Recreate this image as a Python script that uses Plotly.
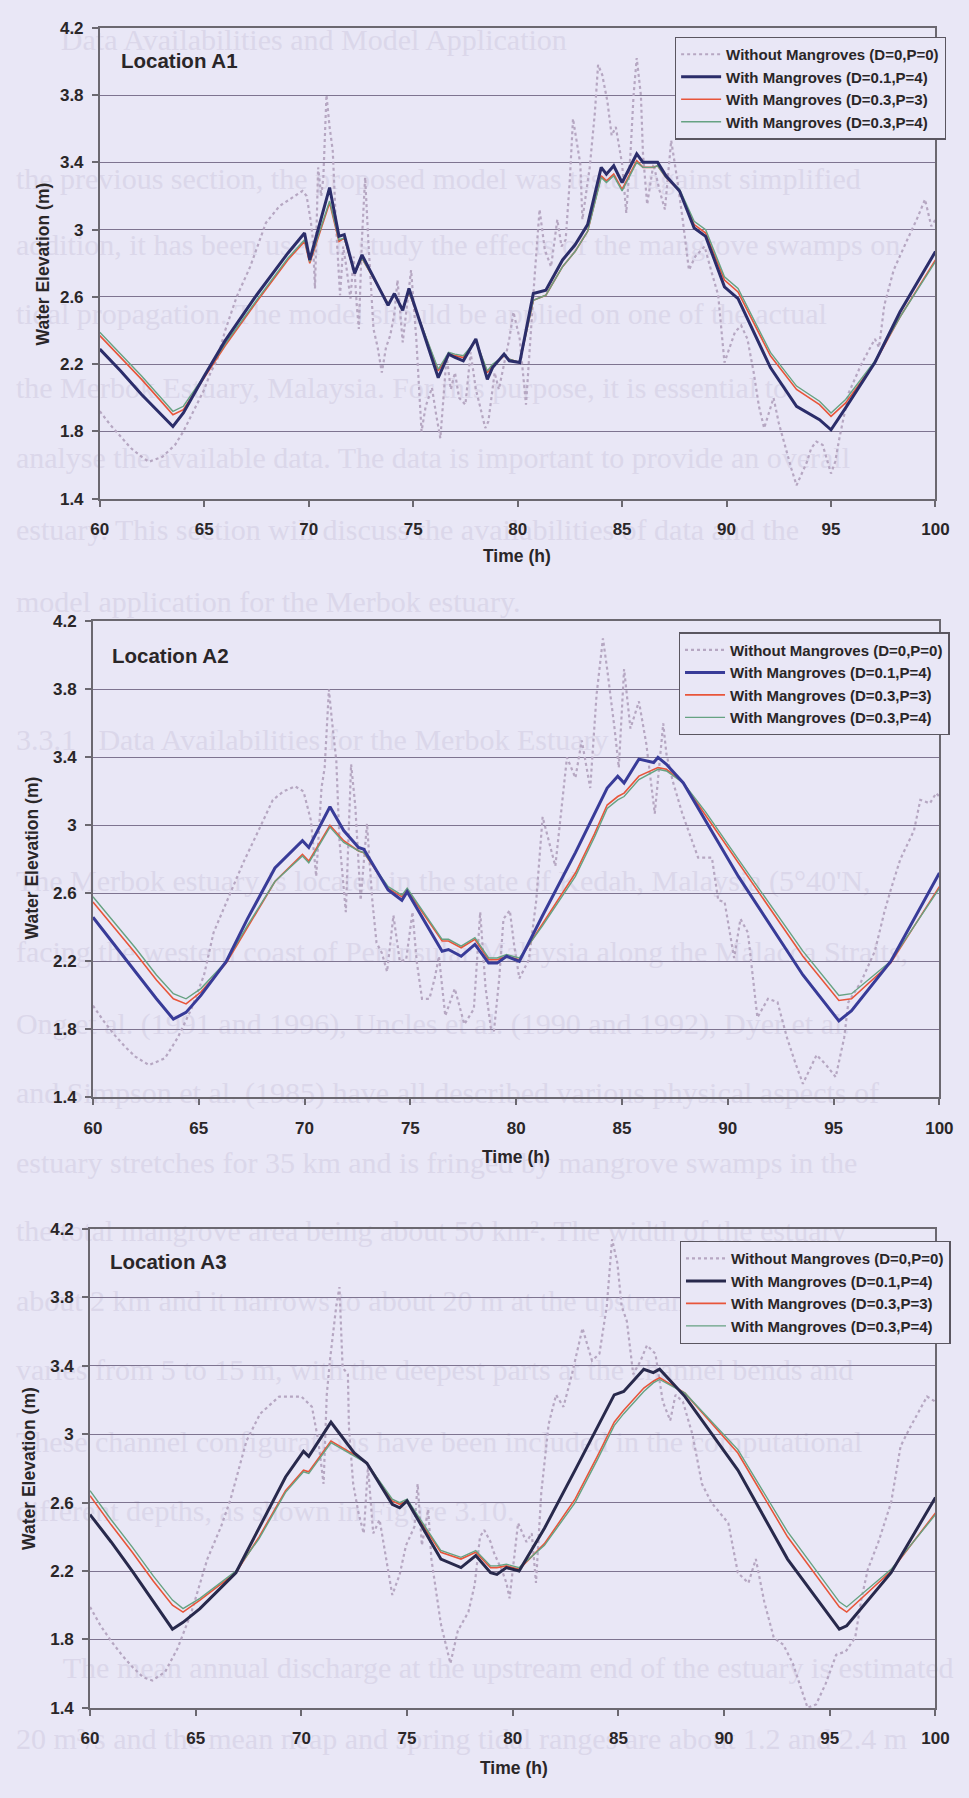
import plotly.graph_objects as go

W, H = 969, 1798
BG = "#E9E7F6"

series_names = ["Without Mangroves (D=0,P=0)", "With Mangroves (D=0.1,P=4)",
                "With Mangroves (D=0.3,P=3)", "With Mangroves (D=0.3,P=4)"]
location_labels = ["Location A1", "Location A2", "Location A3"]
y_ticks = [1.4, 1.8, 2.2, 2.6, 3.0, 3.4, 3.8, 4.2]
y_tick_labels = ["1.4", "1.8", "2.2", "2.6", "3", "3.4", "3.8", "4.2"]
x_ticks = [60, 65, 70, 75, 80, 85, 90, 95, 100]
x_tick_labels = ["60", "65", "70", "75", "80", "85", "90", "95", "100"]

# faint show-through text of the scanned page behind the charts
page_text_rows = [
    "Data Availabilities and Model Application",
    "the previous section, the proposed model was tested against simplified",
    "addition, it has been used to study the effects of the mangrove swamps on",
    "tidal propagation. The model should be applied on one of the actual",
    "the Merbok Estuary, Malaysia. For this purpose, it is essential to",
    "analyse the available data. The data is important to provide an overall",
    "estuary. This section will discuss the availabilities of data and the",
    "model application for the Merbok estuary.",
    "3.3.1   Data Availabilities for the Merbok Estuary",
    "The Merbok estuary is located in the state of Kedah, Malaysia (5°40'N,",
    "facing the western coast of Peninsular Malaysia along the Malacca Straits,",
    "Ong et al. (1991 and 1996), Uncles et al. (1990 and 1992), Dyer et al.",
    "and Simpson et al. (1985) have all described various physical aspects of",
    "estuary stretches for 35 km and is fringed by mangrove swamps in the",
    "the total mangrove area being about 50 km². The width of the estuary",
    "about 2 km and it narrows to about 20 m at the upstream end. The depth",
    "varies from 5 to 15 m, with the deepest parts at the channel bends and",
    "These channel configurations have been included in the computational",
    "different depths, as shown in Figure 3.10.",
    "The mean annual discharge at the upstream end of the estuary is estimated",
    "20 m³/s and the mean neap and spring tidal ranges are about 1.2 and 2.4 m",
]
page_text_pos = [(50, 28), (4, 168), (4, 235), (4, 305), (4, 380), (4, 450), (4, 523), (4, 596),
                 (4, 735), (4, 878), (4, 950), (4, 1023), (4, 1093), (4, 1163), (4, 1232),
                 (4, 1302), (4, 1372), (4, 1445), (4, 1515), (52, 1673), (4, 1745)]

# ---------------- Location A1 ----------------
a1_nm_t = [60, 60.5, 61, 61.5, 62, 62.35, 63, 63.6, 64, 64.4, 65, 65.3, 65.6, 66, 66.55, 67.2, 67.95, 68.6, 69.2, 69.7,
           69.9, 70.1, 70.2, 70.3, 70.45, 70.6, 70.7, 70.85, 71.0, 71.15, 71.3, 71.5, 71.65, 71.8, 72.0, 72.15, 72.3, 72.4,
           72.55, 72.7, 72.85, 73.1, 73.3, 73.5, 73.7, 73.9, 74.1, 74.25, 74.5, 74.7, 74.9, 75.15, 75.25, 75.4, 75.6, 75.9,
           76.1, 76.3, 76.45, 76.6, 76.8, 77.0, 77.2, 77.5, 77.75, 78.0, 78.2, 78.45, 78.6, 78.9, 79.1, 79.35, 79.6, 79.8,
           80.1, 80.4, 80.55, 80.8, 81.05, 81.3, 81.6, 81.9, 82.1, 82.3, 82.5, 82.65, 83.0, 83.1, 83.45, 83.7, 83.85, 84.05,
           84.3, 84.5, 84.7, 85.0, 85.2, 85.4, 85.55, 85.7, 85.9, 86.0, 86.2, 86.5, 86.8, 87.05, 87.35, 87.65, 87.9, 88.2,
           88.5, 88.95, 89.3, 89.6, 89.9, 90.15, 90.4, 90.7, 91.0, 91.3, 91.55, 91.8, 92.0, 92.25, 92.5, 92.8, 93.1, 93.35,
           93.6, 93.85, 94.05, 94.3, 94.6, 94.85, 95.0, 95.2, 95.4, 95.85, 96.45, 97.1, 97.3, 97.55, 98.0, 98.65, 99.1,
           99.5, 99.8, 100]
a1_nm_v = [1.92, 1.84, 1.77, 1.70, 1.65, 1.62, 1.65, 1.72, 1.80, 1.90, 2.05, 2.15, 2.22, 2.40, 2.60, 2.78, 3.04, 3.14, 3.19, 3.23,
           3.20, 3.05, 2.94, 2.65, 3.37, 3.20, 3.31, 3.80, 3.61, 3.47, 3.04, 2.61, 2.90, 2.78, 2.59, 2.84, 2.55, 2.41,
           2.95, 3.31, 2.94, 2.41, 2.30, 2.15, 2.30, 2.37, 2.50, 2.70, 2.33, 2.55, 2.76, 2.35, 2.10, 1.80, 1.95, 2.06,
           1.90, 1.76, 2.00, 2.25, 2.05, 2.15, 2.00, 1.96, 2.27, 2.05, 1.95, 1.82, 1.86, 2.15, 2.05, 2.19, 2.35, 2.51,
           2.35, 1.96, 2.25, 2.70, 3.12, 2.88, 2.78, 3.06, 2.90, 2.94, 3.30, 3.66, 3.39, 3.06, 3.37, 3.70, 3.98, 3.92,
           3.76, 3.56, 3.61, 3.39, 3.10, 3.45, 3.80, 4.02, 3.80, 3.45, 3.15, 3.39, 3.23, 3.12, 3.53, 3.29, 3.06, 2.76,
           2.84, 2.90, 2.74, 2.61, 2.21, 2.30, 2.39, 2.43, 2.35, 2.15, 1.95, 1.82, 1.90, 2.00, 1.85, 1.71, 1.58, 1.48,
           1.55, 1.62, 1.70, 1.74, 1.72, 1.62, 1.55, 1.62, 1.76, 2.03, 2.20, 2.35, 2.30, 2.55, 2.76, 2.94, 3.06,
           3.18, 3.02, 3.06]
a1_m_t = [60, 61, 62, 63, 63.5, 64, 65, 66, 67.5, 69, 69.8, 70.05, 71.0, 71.45, 71.7, 72.2, 72.55, 73.8, 74.1, 74.5, 74.8,
          76.2, 76.7, 77.0, 77.4, 78.0, 78.55, 78.8, 79.35, 79.6, 80.1, 80.75, 81.35, 82.15, 82.75, 83.35, 84.0, 84.25,
          84.6, 85.0, 85.7, 86.0, 86.5, 86.7, 87.1, 87.75, 88.45, 89.0, 89.9, 90.55, 92.1, 93.35, 94.45, 95.0, 95.7,
          97.1, 98.3, 100]
a1_d01p4 = [2.29, 2.16, 2.02, 1.89, 1.83, 1.91, 2.13, 2.34, 2.61, 2.86, 2.98, 2.82, 3.25, 2.96, 2.97, 2.74, 2.85, 2.55, 2.62, 2.52, 2.65,
            2.12, 2.26, 2.24, 2.22, 2.35, 2.11, 2.18, 2.26, 2.22, 2.21, 2.62, 2.64, 2.82, 2.91, 3.03, 3.37, 3.33,
            3.38, 3.28, 3.45, 3.40, 3.40, 3.40, 3.32, 3.23, 3.01, 2.96, 2.66, 2.59, 2.18, 1.95, 1.87, 1.81, 1.94,
            2.21, 2.51, 2.87]
a1_d03p3 = [2.37, 2.24, 2.11, 1.97, 1.90, 1.93, 2.12, 2.31, 2.57, 2.82, 2.93, 2.80, 3.16, 2.93, 2.95, 2.74, 2.83, 2.56, 2.61, 2.53, 2.63,
            2.16, 2.26, 2.25, 2.24, 2.34, 2.15, 2.19, 2.25, 2.23, 2.21, 2.58, 2.61, 2.78, 2.87, 2.99, 3.32, 3.29,
            3.33, 3.24, 3.41, 3.37, 3.37, 3.38, 3.31, 3.23, 3.03, 2.98, 2.70, 2.63, 2.25, 2.05, 1.96, 1.89, 1.97,
            2.21, 2.48, 2.82]
a1_d03p4 = [2.39, 2.26, 2.13, 1.99, 1.92, 1.95, 2.13, 2.32, 2.58, 2.83, 2.94, 2.81, 3.17, 2.94, 2.95, 2.74, 2.83, 2.56, 2.61, 2.53, 2.63,
            2.17, 2.27, 2.26, 2.25, 2.34, 2.16, 2.20, 2.25, 2.23, 2.21, 2.58, 2.61, 2.78, 2.87, 2.99, 3.31, 3.28,
            3.32, 3.23, 3.40, 3.37, 3.37, 3.38, 3.31, 3.24, 3.05, 3.00, 2.72, 2.65, 2.27, 2.07, 1.98, 1.91, 1.99,
            2.22, 2.48, 2.81]

# ---------------- Location A2 ----------------
a2_nm_t = [60, 60.5, 61, 61.5, 62, 62.65, 63.4, 64.0, 64.65, 65.25, 65.7, 66.5, 67.1, 67.9, 68.5, 69.0, 69.55, 69.95, 70.3,
           70.55, 70.8, 70.95, 71.15, 71.3, 71.5, 71.65, 71.95, 72.2, 72.4, 72.65, 72.95, 73.2, 73.4, 73.65, 73.9, 74.2,
           74.5, 74.8, 75.1, 75.3, 75.55, 75.9, 76.15, 76.35, 76.65, 77.1, 77.55, 78.0, 78.15, 78.3, 78.55, 78.8, 78.95,
           79.2, 79.4, 79.7, 79.9, 80.15, 80.6, 80.95, 81.25, 81.55, 81.85, 82.1, 82.4, 82.8, 83.1, 83.5, 83.8, 84.1,
           84.3, 84.65, 84.85, 85.1, 85.4, 85.8, 86.15, 86.55, 86.95, 87.1, 87.4, 87.85, 88.3, 88.6, 89.25, 89.55, 89.85,
           90.3, 90.6, 90.95, 91.4, 91.9, 92.35, 92.8, 93.2, 93.55, 94.2, 94.65, 95.1, 95.5, 95.7, 96.3, 96.95, 97.4,
           97.7, 98.15, 98.8, 99.1, 99.55, 99.85, 100]
a2_nm_v = [1.94, 1.85, 1.77, 1.70, 1.64, 1.59, 1.63, 1.75, 1.92, 2.12, 2.37, 2.60, 2.78, 2.99, 3.15, 3.20, 3.23, 3.20, 3.03,
           2.70, 3.22, 3.34, 3.80, 3.61, 3.38, 2.91, 2.49, 3.36, 3.11, 2.56, 3.01, 2.56, 2.31, 2.25, 2.14, 2.47,
           2.20, 2.21, 2.49, 2.20, 1.98, 1.98, 2.10, 2.23, 1.88, 2.04, 1.83, 1.92, 2.20, 2.49, 2.05, 1.81, 1.79,
           2.10, 2.45, 2.50, 2.30, 2.10, 2.21, 2.56, 3.05, 2.91, 2.76, 3.05, 3.40, 3.28, 3.50, 3.22, 3.77, 4.10,
           3.92, 3.57, 3.34, 3.92, 3.57, 3.73, 3.48, 3.07, 3.60, 3.42, 3.26, 3.07, 2.91, 2.81, 2.81, 2.56, 2.55,
           2.22, 2.45, 2.37, 1.87, 1.98, 1.96, 1.75, 1.60, 1.48, 1.65, 1.59, 1.52, 1.75, 1.96, 2.08, 2.26, 2.49,
           2.62, 2.80, 2.97, 3.15, 3.13, 3.19, 3.17]
a2_m_t = [60, 61, 62, 63, 63.8, 64.4, 65.1, 66.3, 67.3, 68.6, 69.9, 70.2, 71.2, 71.85, 72.55, 72.8, 73.95, 74.6, 74.85,
          76.5, 76.8, 77.4, 78.05, 78.7, 79.1, 79.55, 80.15, 81.25, 82.8, 83.7, 84.3, 84.8, 85.1, 85.8, 86.5, 86.7,
          87.1, 87.9, 88.95, 90.5, 93.55, 95.25, 95.85, 97.7, 100]
a2_d01p4 = [2.46, 2.30, 2.14, 1.98, 1.86, 1.90, 2.00, 2.20, 2.45, 2.75, 2.91, 2.87, 3.11, 2.97, 2.87, 2.86, 2.62, 2.56, 2.61,
            2.26, 2.27, 2.23, 2.30, 2.19, 2.19, 2.23, 2.20, 2.47, 2.84, 3.07, 3.22, 3.29, 3.25, 3.39, 3.37, 3.40,
            3.36, 3.25, 3.03, 2.70, 2.12, 1.85, 1.91, 2.20, 2.72]
a2_d03p3 = [2.55, 2.40, 2.25, 2.09, 1.98, 1.95, 2.02, 2.19, 2.40, 2.67, 2.83, 2.79, 3.00, 2.91, 2.85, 2.84, 2.63, 2.58, 2.62,
            2.32, 2.32, 2.28, 2.33, 2.21, 2.21, 2.23, 2.21, 2.42, 2.72, 2.95, 3.12, 3.17, 3.19, 3.29, 3.33, 3.34,
            3.33, 3.25, 3.06, 2.78, 2.23, 1.97, 1.98, 2.19, 2.64]
a2_d03p4 = [2.58, 2.43, 2.28, 2.12, 2.01, 1.98, 2.04, 2.20, 2.41, 2.67, 2.82, 2.78, 2.99, 2.90, 2.85, 2.84, 2.64, 2.59, 2.63,
            2.33, 2.33, 2.29, 2.34, 2.22, 2.22, 2.24, 2.22, 2.41, 2.70, 2.93, 3.10, 3.15, 3.17, 3.27, 3.32, 3.33,
            3.32, 3.25, 3.08, 2.80, 2.26, 2.00, 2.01, 2.20, 2.63]

# ---------------- Location A3 ----------------
a3_nm_t = [60, 60.5, 61, 61.5, 62, 62.5, 62.95, 63.55, 64.15, 64.8, 65.55, 66.2, 66.65, 67.4, 68.05, 68.95, 70.0, 70.5, 70.8,
           71.05, 71.2, 71.35, 71.65, 71.8, 71.95, 72.2, 72.25, 72.45, 72.7, 72.95, 73.15, 73.4, 73.7, 74.05, 74.3, 74.65,
           74.95, 75.35, 75.5, 75.7, 76.0, 76.15, 76.6, 77.05, 77.4, 77.9, 78.2, 78.45, 78.65, 78.95, 79.1, 79.5, 79.7,
           79.85, 80.25, 80.65, 80.9, 81.1, 81.35, 81.7, 82.05, 82.4, 82.8, 83.3, 83.75, 84.1, 84.45, 84.7, 84.95, 85.15,
           85.4, 85.7, 86.05, 86.35, 86.75, 87.1, 87.45, 87.7, 88.05, 88.5, 88.95, 89.4, 90.2, 90.65, 91.15, 91.5, 91.9,
           92.35, 92.8, 93.25, 93.7, 93.95, 94.35, 94.8, 95.3, 95.75, 96.2, 96.5, 96.8, 97.3, 97.9, 98.35, 98.8, 99.25,
           99.6, 100]
a3_nm_v = [1.99, 1.88, 1.79, 1.71, 1.64, 1.58, 1.56, 1.61, 1.75, 1.96, 2.27, 2.46, 2.62, 2.96, 3.12, 3.22, 3.22, 3.16, 2.96,
           2.71, 3.23, 3.43, 3.75, 3.86, 3.39, 3.35, 3.04, 2.71, 2.54, 2.42, 2.81, 2.42, 2.50, 2.25, 2.06, 2.18,
           2.35, 2.46, 2.71, 2.35, 2.56, 2.27, 1.89, 1.66, 1.85, 1.96, 2.12, 2.40, 2.44, 2.37, 2.31, 2.20, 2.13,
           2.04, 2.48, 2.37, 2.42, 2.13, 2.66, 3.06, 3.23, 3.16, 3.35, 3.62, 3.43, 3.47, 3.75, 4.14, 4.00, 3.75,
           3.66, 3.35, 3.43, 3.52, 3.47, 3.19, 3.08, 3.23, 3.19, 3.00, 2.71, 2.60, 2.48, 2.19, 2.13, 2.27, 2.02,
           1.81, 1.77, 1.66, 1.50, 1.40, 1.42, 1.54, 1.71, 1.73, 1.81, 2.04, 2.21, 2.37, 2.60, 2.93, 3.04, 3.14,
           3.22, 3.19]
a3_m_t = [60, 61, 62, 63, 63.9, 64.4, 65.2, 66.9, 68.0, 69.25, 70.1, 70.35, 71.4, 72.5, 73.1, 74.3, 74.65, 75.0, 76.6, 77.55,
          78.25, 78.95, 79.25, 79.7, 80.3, 81.5, 82.95, 84.0, 84.8, 85.25, 86.2, 86.65, 86.95, 88.15, 90.65, 93.0,
          95.45, 95.8, 97.9, 100]
a3_d01p4 = [2.53, 2.37, 2.20, 2.02, 1.86, 1.90, 1.98, 2.19, 2.45, 2.75, 2.90, 2.87, 3.07, 2.89, 2.83, 2.59, 2.57, 2.61, 2.27, 2.22,
            2.29, 2.19, 2.18, 2.22, 2.20, 2.45, 2.79, 3.04, 3.23, 3.25, 3.38, 3.36, 3.38, 3.22, 2.79, 2.27,
            1.86, 1.88, 2.19, 2.63]
a3_d03p3 = [2.64, 2.47, 2.31, 2.14, 2.00, 1.96, 2.03, 2.19, 2.40, 2.67, 2.79, 2.78, 2.96, 2.88, 2.83, 2.61, 2.59, 2.61, 2.31, 2.27,
            2.31, 2.22, 2.22, 2.23, 2.21, 2.36, 2.62, 2.87, 3.07, 3.14, 3.27, 3.31, 3.33, 3.24, 2.89, 2.40,
            1.99, 1.96, 2.20, 2.54]
a3_d03p4 = [2.67, 2.50, 2.34, 2.17, 2.03, 1.98, 2.04, 2.20, 2.39, 2.66, 2.78, 2.77, 2.95, 2.87, 2.83, 2.62, 2.60, 2.62, 2.32, 2.28,
            2.32, 2.23, 2.23, 2.24, 2.22, 2.35, 2.60, 2.85, 3.05, 3.12, 3.25, 3.30, 3.32, 3.24, 2.91, 2.43,
            2.02, 1.99, 2.21, 2.53]

panels = [
    dict(nm_t=a1_nm_t, nm_v=a1_nm_v, m_t=a1_m_t, s1=a1_d01p4, s2=a1_d03p3, s3=a1_d03p4, navy="#2b2d6a",
         box=(93, 949, 19, 495), loc=(113, 52), ytitle=(35, 258), xtitle=(520, 553), leg=(682, 28)),
    dict(nm_t=a2_nm_t, nm_v=a2_nm_v, m_t=a2_m_t, s1=a2_d01p4, s2=a2_d03p3, s3=a2_d03p4, navy="#383b98",
         box=(86, 953, 619, 1100), loc=(103, 653), ytitle=(23, 858), xtitle=(519, 1160), leg=(686, 630)),
    dict(nm_t=a3_nm_t, nm_v=a3_nm_v, m_t=a3_m_t, s1=a3_d01p4, s2=a3_d03p3, s3=a3_d03p4, navy="#28294c",
         box=(83, 949, 1233, 1717), loc=(101, 1266), ytitle=(21, 1475), xtitle=(517, 1778), leg=(687, 1245)),
]

FONT = "Liberation Sans, Arial, sans-serif"
SERIF = "Liberation Serif, Times New Roman, serif"
TXT = "#2a2628"
AX = "#6b6870"
GRID = "#7e7490"


def px(x):
    return x / W


def py(y):
    return 1 - y / H


fig = go.Figure()
layout = dict(width=W, height=H, margin=dict(l=0, r=0, t=0, b=0), paper_bgcolor=BG, plot_bgcolor="rgba(0,0,0,0)",
              showlegend=True, annotations=[], shapes=[])

# show-through page text, drawn beneath the charts
for txt, (tx, ty) in zip(page_text_rows, page_text_pos):
    layout["shapes"].append(dict(type="rect", xref="paper", yref="paper", layer="below",
                                 x0=px(tx), x1=px(tx) + 0.5, y0=py(ty + 20), y1=py(ty - 20),
                                 line=dict(width=0), fillcolor="rgba(0,0,0,0)",
                                 label=dict(text=txt, textposition="middle left", padding=0,
                                            font=dict(family=SERIF, size=30, color="#dbd7ea"))))

for i, p in enumerate(panels, start=1):
    xa = "x" if i == 1 else f"x{i}"
    ya = "y" if i == 1 else f"y{i}"
    lg = "legend" if i == 1 else f"legend{i}"
    common = dict(xaxis=xa, yaxis=ya, legend=lg, mode="lines")
    fig.add_trace(go.Scatter(x=p["nm_t"], y=p["nm_v"], name=series_names[0], legendrank=1,
                             line=dict(color="#b6a7c2", width=2.2, dash="dot"), **common))
    fig.add_trace(go.Scatter(x=p["m_t"], y=p["s2"], name=series_names[2], legendrank=3,
                             line=dict(color="#e8553a", width=1.6), **common))
    fig.add_trace(go.Scatter(x=p["m_t"], y=p["s3"], name=series_names[3], legendrank=4,
                             line=dict(color="#66a282", width=1.4), **common))
    fig.add_trace(go.Scatter(x=p["m_t"], y=p["s1"], name=series_names[1], legendrank=2,
                             line=dict(color=p["navy"], width=3), **common))

    x0, x1, y0, y1 = p["box"]
    xkey = "xaxis" if i == 1 else f"xaxis{i}"
    ykey = "yaxis" if i == 1 else f"yaxis{i}"
    layout[xkey] = dict(domain=[px(x0), px(x1)], anchor=ya, range=[60, 100], tickvals=x_ticks, ticktext=x_tick_labels,
                        ticks="outside", ticklen=6, tickwidth=1.5, tickcolor=AX, showline=True, linecolor=AX,
                        linewidth=1.6, mirror=True, showgrid=False, zeroline=False, ticklabelstandoff=8,
                        tickfont=dict(family=FONT, size=17, color=TXT, weight="bold"))
    layout[ykey] = dict(domain=[py(y1), py(y0)], anchor=xa, range=[1.4, 4.2], tickvals=y_ticks, ticktext=y_tick_labels,
                        ticks="outside", ticklen=6, tickwidth=1.5, tickcolor=AX, showline=True, linecolor=AX,
                        linewidth=1.6, mirror=True, showgrid=True, gridcolor=GRID, gridwidth=1.4, zeroline=False,
                        ticklabelstandoff=5, tickfont=dict(family=FONT, size=17, color=TXT, weight="bold"))
    lx, ly = p["leg"]
    layout[lg] = dict(x=px(lx), y=py(ly), xanchor="left", yanchor="top", xref="paper", yref="paper",
                      bgcolor=BG, bordercolor="#5a5660", borderwidth=1.3, itemwidth=40,
                      font=dict(family=FONT, size=15, color=TXT, weight="bold"), tracegroupgap=0)
    layout["annotations"].append(dict(text=location_labels[i - 1], x=px(p["loc"][0]), y=py(p["loc"][1]),
                                      xref="paper", yref="paper", xanchor="left", yanchor="middle", showarrow=False,
                                      font=dict(family=FONT, size=20.5, color=TXT, weight="bold")))
    layout["annotations"].append(dict(text="Water Elevation (m)", x=px(p["ytitle"][0]), y=py(p["ytitle"][1]),
                                      xref="paper", yref="paper", xanchor="center", yanchor="middle", textangle=-90,
                                      showarrow=False, font=dict(family=FONT, size=17.5, color=TXT, weight="bold")))
    layout["annotations"].append(dict(text="Time (h)", x=px(p["xtitle"][0]), y=py(p["xtitle"][1]),
                                      xref="paper", yref="paper", xanchor="center", yanchor="middle",
                                      showarrow=False, font=dict(family=FONT, size=17.5, color=TXT, weight="bold")))

fig.update_layout(**layout)
fig.write_html("out.html", post_script="document.body.style.margin='0';")
